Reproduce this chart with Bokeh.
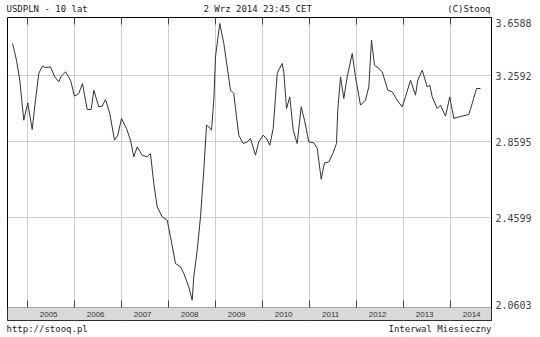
import math
from bokeh.plotting import figure
from bokeh.models import (Range1d, FixedTicker, LinearAxis, LabelSet,
                          ColumnDataSource, BoxAnnotation)
from bokeh.core.properties import value
from bokeh.embed import file_html
from bokeh.resources import INLINE

# ---- data ----
t_years = [
    2004.681, 2004.766, 2004.836, 2004.921, 2005.006, 2005.100, 2005.170, 2005.240, 2005.313, 2005.383,
    2005.489, 2005.581, 2005.666, 2005.717, 2005.809, 2005.915, 2006.000, 2006.091, 2006.170, 2006.270,
    2006.355, 2006.411, 2006.517, 2006.589, 2006.660, 2006.751, 2006.851, 2006.921, 2007.000, 2007.106,
    2007.191, 2007.262, 2007.334, 2007.440, 2007.547, 2007.617, 2007.687, 2007.760, 2007.866, 2007.972,
    2008.043, 2008.149, 2008.255, 2008.326, 2008.432, 2008.504, 2008.538, 2008.611, 2008.681, 2008.751,
    2008.809, 2008.857, 2008.915, 2008.964, 2009.000, 2009.091, 2009.177, 2009.249, 2009.319, 2009.389,
    2009.447, 2009.496, 2009.589, 2009.674, 2009.745, 2009.851, 2009.921, 2010.015, 2010.085, 2010.155,
    2010.228, 2010.313, 2010.362, 2010.419, 2010.453, 2010.511, 2010.581, 2010.653, 2010.738, 2010.823,
    2010.894, 2010.985, 2011.091, 2011.164, 2011.249, 2011.319, 2011.411, 2011.496, 2011.574, 2011.602,
    2011.660, 2011.730, 2011.802, 2011.909, 2011.979, 2012.085, 2012.191, 2012.262, 2012.319, 2012.383,
    2012.453, 2012.547, 2012.666, 2012.760, 2012.866, 2012.972, 2013.043, 2013.149, 2013.255, 2013.304,
    2013.398, 2013.504, 2013.560, 2013.611, 2013.717, 2013.787, 2013.894, 2013.985, 2014.070, 2014.177,
    2014.389, 2014.462, 2014.553, 2014.638,
]
usdpln = [
    3.4752, 3.3622, 3.2316, 2.9855, 3.0895, 2.9311, 3.1061, 3.2747, 3.3224, 3.3139,
    3.3178, 3.2528, 3.2207, 3.2573, 3.2852, 3.2316, 3.1308, 3.1476, 3.2106, 3.0494,
    3.0494, 3.1682, 3.0652, 3.0694, 3.1104, 3.0254, 2.8696, 2.8981, 2.9956, 2.9368,
    2.8696, 2.7763, 2.8318, 2.7856, 2.7763, 2.7950, 2.6338, 2.5146, 2.4653, 2.4493,
    2.3696, 2.2480, 2.2329, 2.2039, 2.1462, 2.0904, 2.1891, 2.3080, 2.4653, 2.7041,
    2.9561, 2.9462, 2.9270, 3.1061, 3.3842, 3.6156, 3.4752, 3.3178, 3.1682, 3.1476,
    3.0051, 2.8981, 2.8509, 2.8599, 2.8793, 2.7856, 2.8599, 2.8981, 2.8793, 2.8413,
    2.9368, 3.2747, 3.3073, 3.3403, 3.2852, 3.0555, 3.1265, 2.9270, 2.8509, 3.0652,
    2.9855, 2.8599, 2.8543, 2.8245, 2.6563, 2.7435, 2.7489, 2.7950, 2.8509, 3.0452,
    3.2528, 3.1166, 3.2528, 3.4070, 3.2528, 3.0755, 3.1061, 3.1890, 3.4980, 3.3290,
    3.3139, 3.2852, 3.1682, 3.1576, 3.1061, 3.0652, 3.1265, 3.2316, 3.1370, 3.2316,
    3.2962, 3.1890, 3.1998, 3.1265, 3.0555, 3.0755, 3.0093, 3.1265, 2.9956, 3.0051,
    3.0194, 3.0859, 3.1789, 3.1789,
]
year_starts = list(range(2005, 2015))
year_labels = [str(y) for y in year_starts]
y_ticks = [2.0603, 2.4599, 2.8595, 3.2592, 3.6588]
header_texts = ["USDPLN - 10 lat", "2 Wrz 2014 23:45 CET", "(C)Stooq"]
footer_texts = ["http://stooq.pl", "Interwal Miesieczny"]

# ---- layout ----
W, H = 540, 337
L, R, T, B = 7, 49, 17, 17
FW, FH = W - L - R, H - T - B
X0, X1 = 2004.5745, 2014.8723
Y0, Y1 = 2.0080, y_ticks[-1]
MONO = "DejaVu Sans Mono"
TXT = "#222222"
CW = 5.42  # width of one 9px monospace character


def x_at(px):
    return X0 + (px - L) / FW * (X1 - X0)


def y_at(py):
    return math.exp(math.log(Y1) - (py - T) / FH * (math.log(Y1) - math.log(Y0)))


p = figure(width=W, height=H, x_range=Range1d(X0, X1), y_range=Range1d(Y0, Y1),
           y_axis_type="log", y_axis_location="right", x_axis_location="above",
           toolbar_location=None, output_backend="svg",
           min_border_left=L, min_border_right=R, min_border_top=T, min_border_bottom=B)
p.background_fill_color = "white"
p.border_fill_color = "white"
p.outline_line_color = "black"
p.outline_line_width = 1

# grids
p.xgrid.ticker = FixedTicker(ticks=year_starts)
p.ygrid.ticker = FixedTicker(ticks=y_ticks[1:4])
p.xgrid.grid_line_color = "#cfcfcf"
p.ygrid.grid_line_color = "#cfcfcf"


def text_axis(ax, centers, texts, standoff):
    ticks = [x_at(c) for c in centers]
    ax.ticker = FixedTicker(ticks=ticks)
    ax.major_label_overrides = {tk: tx for tk, tx in zip(ticks, texts)}
    ax.major_tick_line_color = None
    ax.minor_tick_line_color = None
    ax.major_tick_in = 0
    ax.major_tick_out = 0
    ax.axis_line_color = None
    ax.major_label_standoff = standoff
    ax.major_label_text_font = MONO
    ax.major_label_text_font_size = "9px"
    ax.major_label_text_color = TXT


# header texts drawn by the top axis
head_centers = [6 + len(header_texts[0]) * CW / 2,
                203 + len(header_texts[1]) * CW / 2,
                490 - len(header_texts[2]) * CW / 2]
text_axis(p.xaxis[0], head_centers, header_texts, 4)

# footer texts drawn by a bottom axis
foot = LinearAxis()
foot_centers = [6 + len(footer_texts[0]) * CW / 2,
                491 - len(footer_texts[1]) * CW / 2]
text_axis(foot, foot_centers, footer_texts, 3)
p.add_layout(foot, "below")

# right value axis (extreme values sit just inside the frame corners)
ya = p.yaxis[0]
ypos = [y_at(304)] + y_ticks[1:4] + [y_at(22.7)]
ya.ticker = FixedTicker(ticks=ypos)
ya.major_label_overrides = {pos: f"{v:.4f}" for pos, v in zip(ypos, y_ticks)}
ya.major_tick_in = 0
ya.major_tick_out = 4
ya.major_tick_line_color = None
ya.minor_tick_line_color = None
ya.axis_line_color = "black"
ya.major_label_standoff = 0
ya.major_label_text_font = MONO
ya.major_label_text_font_size = "10px"
ya.major_label_text_color = "#444444"

# the series
p.line(t_years, usdpln, line_color="#333333", line_width=1)

# short dark ticks at year starts (top and above the year band)
p.segment(x0=year_starts, y0=[Y1] * 10, x1=year_starts, y1=[y_at(24)] * 10,
          line_color="#444444", line_width=1)
p.segment(x0=year_starts, y0=[y_ticks[0]] * 10, x1=year_starts, y1=[y_at(300)] * 10,
          line_color="#444444", line_width=1)

# year band
band = BoxAnnotation(top=y_ticks[0], fill_color="#d9d9d9", fill_alpha=1.0,
                     line_color="black", line_width=1)
p.add_layout(band)

yr_src = ColumnDataSource(dict(x=[y + 0.45 for y in year_starts],
                               y=[y_at(313.5)] * len(year_starts),
                               text=year_labels))
p.add_layout(LabelSet(x="x", y="y", text="text", source=yr_src,
                      text_align="center", text_baseline="middle",
                      text_font=value("Liberation Sans"), text_font_size=value("8px"),
                      text_color="#333333"))

open("out.html", "w").write(file_html(p, INLINE))
